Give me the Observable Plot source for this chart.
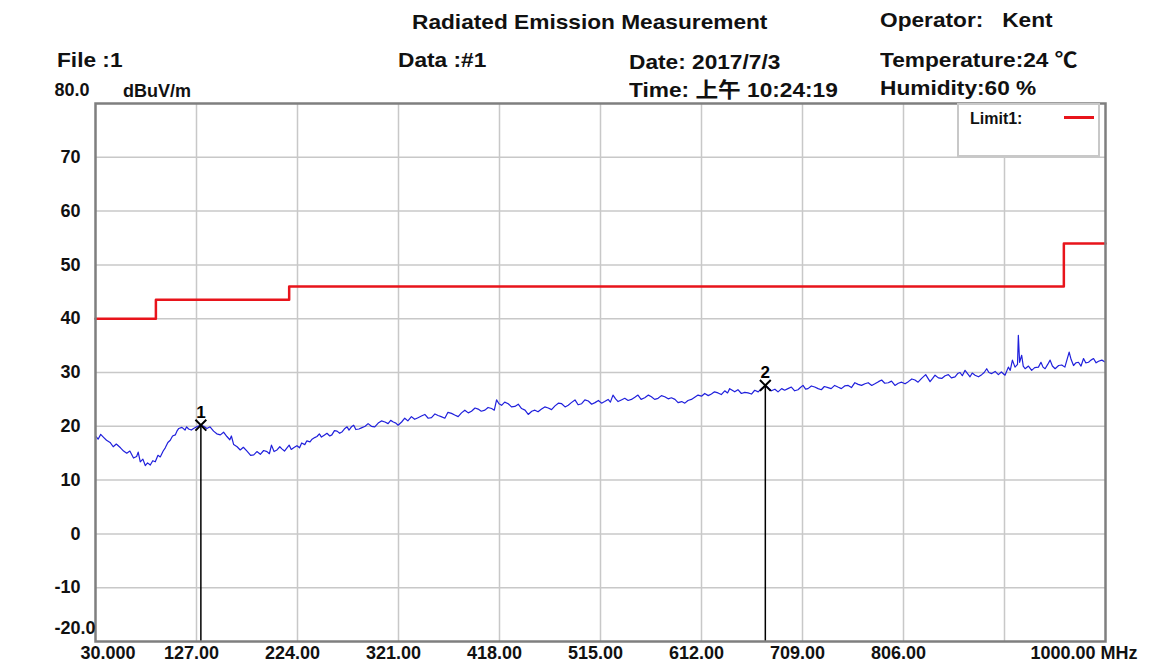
<!DOCTYPE html>
<html><head><meta charset="utf-8">
<script src="https://cdn.jsdelivr.net/npm/d3@7"></script>
<script src="https://cdn.jsdelivr.net/npm/@observablehq/plot@0.6"></script>
<style>
body{margin:0;background:#fff;}
#wrap{position:relative;width:1164px;height:669px;overflow:hidden;font-family:"Liberation Sans",Arial,"Noto Sans CJK SC",sans-serif;font-weight:bold;color:#111;}
#chart{position:absolute;left:0;top:0;}
.h{position:absolute;font-size:21px;line-height:1;white-space:pre;transform:scaleX(1.08);transform-origin:left center;}
.n{position:absolute;font-family:"Liberation Sans Narrow","Arial Narrow","Liberation Sans",sans-serif;font-weight:bold;line-height:1;white-space:pre;}
#legend{position:absolute;left:957px;top:103px;width:139px;height:50px;border:2px solid #c8c8c8;background:#fff;}
#legend .lab{position:absolute;left:11px;top:6px;font-family:"Liberation Sans Narrow","Arial Narrow","Liberation Sans",sans-serif;font-size:16px;line-height:1;}
#legend .sw{position:absolute;left:105px;top:11px;width:30px;height:3px;background:#e8141b;}
</style></head><body>
<div id="wrap">
<div id="chart"></div>
<div class="h" style="left:412px;top:11px">Radiated Emission Measurement</div>
<div class="h" style="left:880px;top:9px">Operator:   Kent</div>
<div class="h" style="left:57px;top:49px">File :1</div>
<div class="h" style="left:398px;top:49px">Data :#1</div>
<div class="h" style="left:629px;top:51px">Date: 2017/7/3</div>
<div class="h" style="left:880px;top:49px">Temperature:24 ℃</div>
<div class="h" style="left:629px;top:79px">Time: 上午 10:24:19</div>
<div class="h" style="left:880px;top:77px">Humidity:60 %</div>
<div class="n" style="left:123px;top:82px;font-size:18px">dBuV/m</div>
<div id="legend"><div class="lab">Limit1:</div><div class="sw"></div></div>
</div>
<script>
// Measured trace: [MHz, dBuV/m]
const traceFreqLevel = [
[30,18.2],[32.5,17.6],[35,18.5],[38,17.9],[40.6,17.4],[44,17.0],[47,16.2],[50,16.7],[54,16.0],[57,15.4],
[60,15.0],[63,15.4],[66.5,14.1],[69.5,14.4],[71,15.2],[73,13.4],[75.5,13.9],[77.8,12.7],[80,13.2],[82.6,12.8],
[85,13.6],[87.4,13.4],[90,14.6],[92.2,14.3],[95,15.4],[97,16.0],[99.5,17.0],[101.8,17.4],[104,18.2],[106.6,18.4],
[108.5,19.2],[110,19.6],[113,19.8],[116,19.3],[117.5,19.9],[119.4,19.5],[122,19.3],[124.2,19.6],[128,20.0],[131.2,20.2],
[134,20.0],[137,19.6],[140,19.9],[143.4,19.1],[146.5,18.6],[149.9,18.4],[153,18.9],[156.2,18.1],[159,17.5],[160.5,18.2],
[162.7,16.6],[166,16.2],[169,15.6],[172,16.1],[175.5,15.4],[179,14.6],[182,14.7],[185,15.3],[188.3,14.8],[191.5,15.5],
[194.7,15.3],[197,14.9],[199,16.5],[201.5,15.3],[204.3,15.6],[207,16.2],[209,15.8],[211.5,15.4],[213.9,16.0],[216,16.5],
[218,15.7],[221,16.1],[223.5,16.4],[226,16.0],[228,16.9],[231,16.6],[233,17.3],[236,17.1],[238,17.6],[240.5,17.9],
[242.7,18.1],[245,18.6],[247,18.0],[250,18.4],[252.3,18.7],[255,18.2],[257,18.4],[259.5,19.2],[262,19.1],[264.5,18.7],
[267,19.0],[269.5,19.6],[271.6,19.9],[273.5,19.3],[275.8,19.9],[278,20.2],[280,19.4],[283,19.5],[285.4,19.7],[289,20.0],
[291.8,20.5],[295,20.0],[298.2,19.9],[301.5,20.6],[304.6,21.0],[308,20.8],[311,20.5],[313.5,21.1],[316,20.8],[318.5,20.6],
[320.6,20.2],[324,20.8],[327,21.5],[330,21.0],[333.4,21.8],[336.5,21.3],[339.8,21.6],[343,21.9],[346.3,22.2],[349.5,21.5],
[352.7,21.6],[356,22.3],[359,22.0],[362,21.8],[365.5,21.5],[368.5,22.6],[371.9,22.4],[375,22.1],[378.3,21.8],[381.5,22.5],
[384.7,23.0],[388,22.5],[391.1,22.8],[394.5,23.4],[397.5,23.2],[400.5,22.8],[404,23.0],[407,23.5],[410.4,23.3],[413,23.0],
[415.2,24.9],[417.5,24.2],[420,23.9],[423,24.5],[426.4,24.2],[429.5,23.6],[432.8,23.7],[436,24.1],[439.2,23.3],[442.5,23.0],
[445.6,22.2],[449,22.8],[452,23.0],[455,22.7],[458.4,23.2],[461.5,23.6],[464.8,23.4],[468,23.1],[471.3,23.8],[474.5,24.3],
[477.7,24.2],[481,23.6],[484,23.9],[487,24.4],[490.5,24.9],[493.5,24.0],[496.9,24.2],[500,24.9],[503.3,24.7],[506.5,24.1],
[509.7,24.4],[513,24.8],[516,24.3],[519,24.6],[522.3,25.0],[524.5,24.5],[527,25.8],[529.5,25.1],[531.9,24.6],[535,24.9],
[538.3,25.2],[541.5,24.8],[544.7,25.0],[548,25.4],[551,25.8],[554,25.0],[557.5,25.3],[561,25.8],[563.9,25.5],[567,25.0],
[570.3,25.2],[573.5,25.7],[576.7,25.5],[580,25.1],[583.1,25.3],[586.5,25.0],[589.5,24.4],[593,24.6],[596,24.3],[599,24.8],
[602.3,25.0],[605.5,25.4],[608.7,25.8],[612,25.6],[615.1,26.1],[618.5,25.7],[621.5,26.0],[624.5,26.4],[627.9,26.2],[631,25.9],
[634.3,26.6],[637,26.2],[639.1,27.0],[641.5,26.7],[643.9,26.4],[647,26.8],[650.3,26.1],[653.5,26.3],[656.7,26.2],[660,26.0],
[663.1,26.7],[666.5,26.4],[669.5,27.0],[671.5,27.2],[673.3,27.6],[676,27.2],[679.1,26.6],[682.5,26.9],[685.5,26.4],[689,27.0],
[691.9,26.7],[695,27.0],[698.3,27.3],[701.5,26.6],[704.7,26.8],[707,27.2],[709.5,27.6],[712,26.9],[714.3,27.0],[717.5,27.5],
[720.7,27.3],[724,27.0],[727.1,26.8],[730,27.4],[733.5,27.2],[736.5,27.0],[739.9,27.6],[743,27.3],[746.3,27.0],[749.5,27.5],
[752.9,27.6],[756,27.2],[759.3,28.1],[762.5,27.8],[765.7,27.6],[769,27.9],[772.1,28.1],[775.5,27.6],[778.5,27.9],[782,28.3],
[785,28.6],[788,28.0],[791.4,28.1],[794.5,28.4],[797.8,27.6],[801,28.0],[804.2,28.2],[807.5,27.9],[810.6,28.3],[814,28.8],
[817,28.6],[820,28.2],[823.4,28.9],[827.3,29.6],[831.5,28.3],[834,28.9],[836.3,29.5],[839.5,29.0],[842.7,28.9],[846,29.4],
[849.1,29.6],[852,29.0],[855.5,29.2],[858,29.8],[860.3,30.0],[862.5,29.4],[865.1,30.4],[867.5,29.8],[869.9,29.2],[872,29.9],
[874.7,29.5],[878,29.2],[881.1,29.6],[883.5,30.0],[885.9,30.7],[888,30.0],[890.7,29.8],[894,30.2],[897.1,29.6],[900,30.1],
[903.5,29.5],[906.7,31.0],[908.5,30.4],[910.6,32.3],[913.1,31.0],[915.5,31.5],[916.3,36.9],[917.5,31.9],[919.5,33.2],[921,31.2],
[922.8,30.7],[926,31.2],[929.1,30.4],[932,30.9],[935.6,31.0],[938,31.9],[940,31.0],[942,30.7],[944.5,31.5],[946.8,32.3],
[949,31.2],[951.6,30.7],[955,31.3],[958,31.4],[961,31.0],[965.1,33.8],[967,32.4],[969.3,31.3],[971.5,31.8],[974,31.9],
[976.5,31.2],[978.9,32.6],[981,31.8],[983.7,31.9],[986,32.3],[988.5,32.6],[991,31.8],[993.3,32.1],[996.5,32.3],[1000,31.9]
];
// Limit line
const limitFreq = [30, 88, 216, 960, 1000];
const limitDb = [40, 43.5, 46, 54, 54];
// Markers
const markerFreq = [131.2, 673.3];
const markerDb = [20.2, 27.6];
const markerNo = ["1", "2"];
// Axes
const xGrid = [127, 224, 321, 418, 515, 612, 709, 806, 903];
const xMidTicks = [127, 224, 321, 418, 515, 612, 709, 806];
const xMidLabels = ["127.00","224.00","321.00","418.00","515.00","612.00","709.00","806.00"];
const xFirstLabel = "30.000";
const xLastLabel = "1000.00 MHz";
const yTicks = [-10, 0, 10, 20, 30, 40, 50, 60, 70];
const yTickLabels = ["-10","0","10","20","30","40","50","60","70"];
const yEndLabels = ["80.0", "-20.0"];
const yEnds = [80, -20];

const trace = traceFreqLevel.map(([f, v]) => ({f, v}));
const limit = limitFreq.map((f, i) => ({f, v: limitDb[i]}));
const markers = markerFreq.map((f, i) => ({f, v: markerDb[i], n: markerNo[i]}));
const narrow = '"Liberation Sans Narrow","Arial Narrow","Liberation Sans",sans-serif';
const fs = 18;

const chart = Plot.plot({
  width: 1164, height: 669,
  marginLeft: 95, marginRight: 59, marginTop: 103, marginBottom: 28,
  x: {domain: [30, 1000], axis: null},
  y: {domain: [-20, 80], axis: null},
  style: {background: "transparent"},
  marks: [
    Plot.ruleX(xGrid, {stroke: "#c8c8c8", strokeWidth: 1.5}),
    Plot.ruleY(yTicks, {stroke: "#c8c8c8", strokeWidth: 1.5}),
    Plot.line(limit, {x: "f", y: "v", curve: "step-after", stroke: "#e8141b", strokeWidth: 2.5}),
    Plot.line(trace, {x: "f", y: "v", stroke: "#2020dc", strokeWidth: 1.2}),
    Plot.ruleX(markers, {x: "f", y1: -20, y2: "v", stroke: "#000", strokeWidth: 1.5}),
    Plot.dot(markers, {x: "f", y: "v", symbol: "times", r: 5, stroke: "#000", strokeWidth: 2}),
    Plot.text(markers, {x: "f", y: "v", text: "n", dy: -13, fontSize: 17, fontWeight: "bold", fontFamily: narrow, fill: "#000"}),
    Plot.frame({stroke: "#7f7f7f", strokeWidth: 2.5}),
    Plot.text(yTicks, {y: d => d, text: (d, i) => yTickLabels[i], frameAnchor: "left", textAnchor: "end", dx: -15, fontSize: fs, fontWeight: "bold", fontFamily: narrow, fill: "#111"}),
    Plot.text(yEnds, {y: d => d, text: (d, i) => yEndLabels[i], frameAnchor: "left", textAnchor: "start", dx: -41, dy: -13, fontSize: fs, fontWeight: "bold", fontFamily: narrow, fill: "#111"}),
    Plot.text(xMidTicks, {x: d => d, text: (d, i) => xMidLabels[i], frameAnchor: "bottom", dy: 17, dx: -5, fontSize: fs, fontWeight: "bold", fontFamily: narrow, fill: "#111"}),
    Plot.text([30], {x: d => d, text: () => xFirstLabel, frameAnchor: "bottom", textAnchor: "start", dy: 17, dx: -15, fontSize: fs, fontWeight: "bold", fontFamily: narrow, fill: "#111"}),
    Plot.text([1000], {x: d => d, text: () => xLastLabel, frameAnchor: "bottom", textAnchor: "start", dy: 17, dx: -75, fontSize: fs, fontWeight: "bold", fontFamily: narrow, fill: "#111"})
  ]
});
document.getElementById("chart").appendChild(chart);
</script>
</body></html>
